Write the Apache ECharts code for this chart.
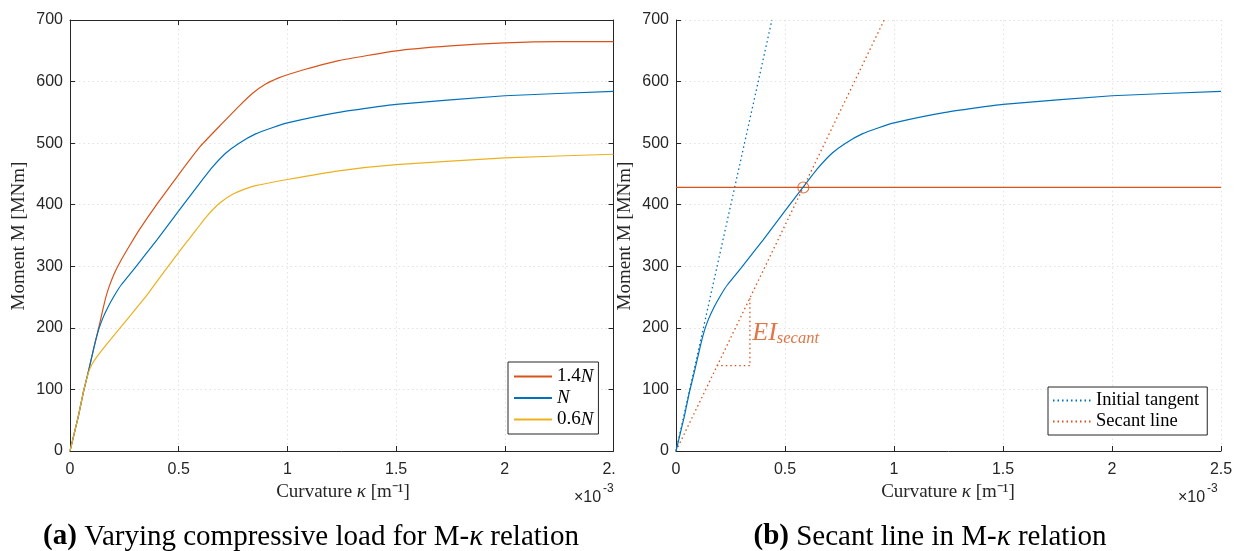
<!DOCTYPE html>
<html>
<head>
<meta charset="utf-8">
<script src="https://cdn.jsdelivr.net/npm/echarts@6/dist/echarts.min.js"></script>
<style>
  html, body { margin: 0; padding: 0; background: #fff; }
  #wrap { position: relative; width: 1235px; height: 551px; overflow: hidden; }
  #left { position: absolute; left: 0; top: 0; width: 616px; height: 551px; }
  #right { position: absolute; left: 617px; top: 0; width: 618px; height: 551px; }
</style>
</head>
<body>
<div id="wrap">
  <div id="left"></div>
  <div id="right"></div>
</div>
<script>
// curvature in 1e-3 m^-1, moment in MNm
const curve14N = [[0,0],[0.038,56],[0.061,95],[0.084,128],[0.11,168],[0.134,203],[0.15,228],[0.165,250],[0.18,267],[0.206,290],[0.24,313],[0.28,337],[0.32,360],[0.4,401],[0.5,449],[0.6,495],[0.7,532],[0.78,561],[0.84,581],[0.9,596],[0.96,606],[1.0,611],[1.083,620],[1.236,634],[1.5,650],[1.75,658],[2.0,663],[2.25,665],[2.5,665]];
const curveN = [[0,0],[0.038,56],[0.061,95],[0.084,128],[0.11,168],[0.13,195],[0.15,215],[0.175,234],[0.205,253],[0.236,270],[0.3,298],[0.4,343],[0.5,390],[0.584,429],[0.65,459],[0.717,484],[0.778,500],[0.854,515],[0.93,525],[1.0,533],[1.236,550],[1.5,563],[2.0,577],[2.5,584]];
const curve06N = [[0,0],[0.038,56],[0.061,95],[0.084,126],[0.1,140],[0.13,156],[0.17,174],[0.206,189.5],[0.282,222],[0.36,256],[0.447,298],[0.52,332],[0.58,359],[0.626,380],[0.686,402],[0.748,417],[0.8,425],[0.854,431],[1.0,441],[1.236,455],[1.5,465],[2.0,476],[2.5,482]];

const tangentLine = [[0,0],[0.44,700]];
const secantLine = [[0,0],[0.955,700]];
const secantPoint = [[0.584,428]];
const momentLevel = [[0,428],[2.5,428]];
const slopeTriangle = [[0.187,138.6],[0.339,138.6],[0.339,250.6]];
const secantLabelAt = [[0.35,192]];

const BLUE = '#0072BD', ORANGE = '#D95319', YELLOW = '#EDB120';
const AX = '#262626', GRID = '#e2e2e2';
const SERIF = 'Liberation Serif', SANS = 'Liberation Sans';
const DOT = [1.5, 3];

function xAxisBase() {
    return {
        type: 'value', min: 0, max: 2.5, interval: 0.5,
        axisLine: { onZero: false, lineStyle: { color: AX } },
        axisTick: { inside: true, length: 5, lineStyle: { color: AX } },
        axisLabel: { color: AX, fontSize: 16, fontFamily: SANS, margin: 11 },
        splitLine: { show: true, lineStyle: { type: DOT, color: GRID } }
    };
}
function yAxisBase() {
    return {
        type: 'value', min: 0, max: 700, interval: 100,
        axisLine: { show: true, onZero: false, lineStyle: { color: AX } },
        axisTick: { show: true, inside: true, length: 5, lineStyle: { color: AX } },
        axisLabel: { color: AX, fontSize: 16, fontFamily: SANS, margin: 7 },
        splitLine: { show: true, lineStyle: { type: DOT, color: GRID } }
    };
}
// box axes (top / right) without labels
function boxAxis(base, pos) {
    base.position = pos;
    base.axisLabel = { show: false };
    base.splitLine = { show: false };
    return base;
}
function curve(name, data, color, extra) {
    return Object.assign({
        name: name, type: 'line', data: data, showSymbol: false, symbol: 'none',
        smooth: 0.15, lineStyle: { color: color, width: 1.2 }, itemStyle: { color: color },
        z: 3, silent: true
    }, extra || {});
}
function axisTexts(yx, xx, capX, caption, expX) {
    return [
        { type: 'text', x: yx, y: 236, rotation: Math.PI / 2,
          style: { text: 'Moment M [MNm]', font: '19px "' + SERIF + '"', fill: AX, align: 'center', verticalAlign: 'middle' } },
        { type: 'text', x: xx, y: 492,
          style: { text: '{n|Curvature }{i|κ}{n| [m⁻¹]}', align: 'center', verticalAlign: 'middle', fill: AX,
            rich: { n: { fontFamily: SERIF, fontSize: 19, color: AX }, i: { fontFamily: SERIF, fontSize: 19, fontStyle: 'italic', color: AX } } } },
        { type: 'text', x: expX, y: 498,
          style: { text: '×10', font: '16px "' + SANS + '"', fill: AX, align: 'left', verticalAlign: 'middle' } },
        { type: 'text', x: expX + 29, y: 489,
          style: { text: '-3', font: '12px "' + SANS + '"', fill: AX, align: 'left', verticalAlign: 'middle' } },
        { type: 'text', x: capX, y: 537,
          style: { text: caption, align: 'center', verticalAlign: 'middle', fill: '#000',
            rich: { b: { fontFamily: SERIF, fontSize: 29, fontWeight: 'bold', color: '#000' },
                    n: { fontFamily: SERIF, fontSize: 29, color: '#000' },
                    i: { fontFamily: SERIF, fontSize: 29, fontStyle: 'italic', color: '#000' } } } }
    ];
}

let leftChart = echarts.init(document.getElementById('left'));
leftChart.setOption({
    animation: false,
    grid: { left: 70, right: 2.5, top: 20, bottom: 100, outerBoundsMode: 'none', containLabel: false },
    xAxis: [xAxisBase(), boxAxis(xAxisBase(), 'top')],
    yAxis: [yAxisBase(), boxAxis(yAxisBase(), 'right')],
    legend: {
        orient: 'vertical', left: 508, top: 362,
        padding: [5, 5, 5, 5], itemGap: 2.5, itemWidth: 38, itemHeight: 14,
        backgroundColor: '#fff', borderColor: AX, borderWidth: 1,
        itemStyle: { opacity: 0 },
        data: ['1.4N', 'N', '0.6N'],
        formatter: function (name) { return name.replace('N', '{i|N}'); },
        textStyle: { fontFamily: SERIF, fontSize: 19, color: '#000',
            rich: { i: { fontFamily: SERIF, fontSize: 19, fontStyle: 'italic', color: '#000' } } }
    },
    series: [
        curve('1.4N', curve14N, ORANGE),
        curve('N', curveN, BLUE),
        curve('0.6N', curve06N, YELLOW)
    ],
    graphic: axisTexts(19.5, 343, 311,
        '{b|(a)}{n| Varying compressive load for M-}{i|κ}{n| relation}', 574)
});

let rightChart = echarts.init(document.getElementById('right'));
rightChart.setOption({
    animation: false,
    grid: { left: 59, right: 14, top: 20, bottom: 100, outerBoundsMode: 'none', containLabel: false },
    xAxis: xAxisBase(),
    yAxis: yAxisBase(),
    legend: {
        orient: 'vertical', left: 431, top: 387,
        padding: [4, 8, 4, 4], itemGap: 2, itemWidth: 38, itemHeight: 14,
        backgroundColor: '#fff', borderColor: AX, borderWidth: 1,
        itemStyle: { opacity: 0 },
        data: ['Initial tangent', 'Secant line'],
        textStyle: { fontFamily: SERIF, fontSize: 18.5, color: '#000' }
    },
    series: [
        curve('Initial tangent', tangentLine, BLUE, { smooth: false, lineStyle: { color: BLUE, width: 1.3, type: DOT } }),
        curve('Secant line', secantLine, ORANGE, { smooth: false, lineStyle: { color: ORANGE, width: 1.3, type: DOT } }),
        curve('Level', momentLevel, ORANGE, { smooth: false }),
        curve('Triangle', slopeTriangle, ORANGE, { smooth: false, lineStyle: { color: ORANGE, width: 1.3, type: DOT } }),
        curve('N', curveN, BLUE, { z: 4 }),
        {
            name: 'Intersection', type: 'scatter', data: secantPoint, symbol: 'circle', symbolSize: 11,
            itemStyle: { color: 'rgba(0,0,0,0)', borderColor: ORANGE, borderWidth: 1.1 }, z: 5, silent: true
        },
        {
            name: 'EI label', type: 'scatter', data: secantLabelAt, symbolSize: 0, silent: true,
            label: {
                show: true, position: 'right', distance: 0,
                formatter: '{e|EI}{s|secant}',
                rich: {
                    e: { fontFamily: SERIF, fontSize: 26, fontStyle: 'italic', color: ORANGE },
                    s: { fontFamily: SERIF, fontSize: 16.5, fontStyle: 'italic', color: ORANGE, padding: [12, 0, 0, 0] }
                }
            }
        }
    ],
    graphic: axisTexts(8, 331, 313,
        '{b|(b)}{n| Secant line in M-}{i|κ}{n| relation}', 561)
});
</script>
</body>
</html>
